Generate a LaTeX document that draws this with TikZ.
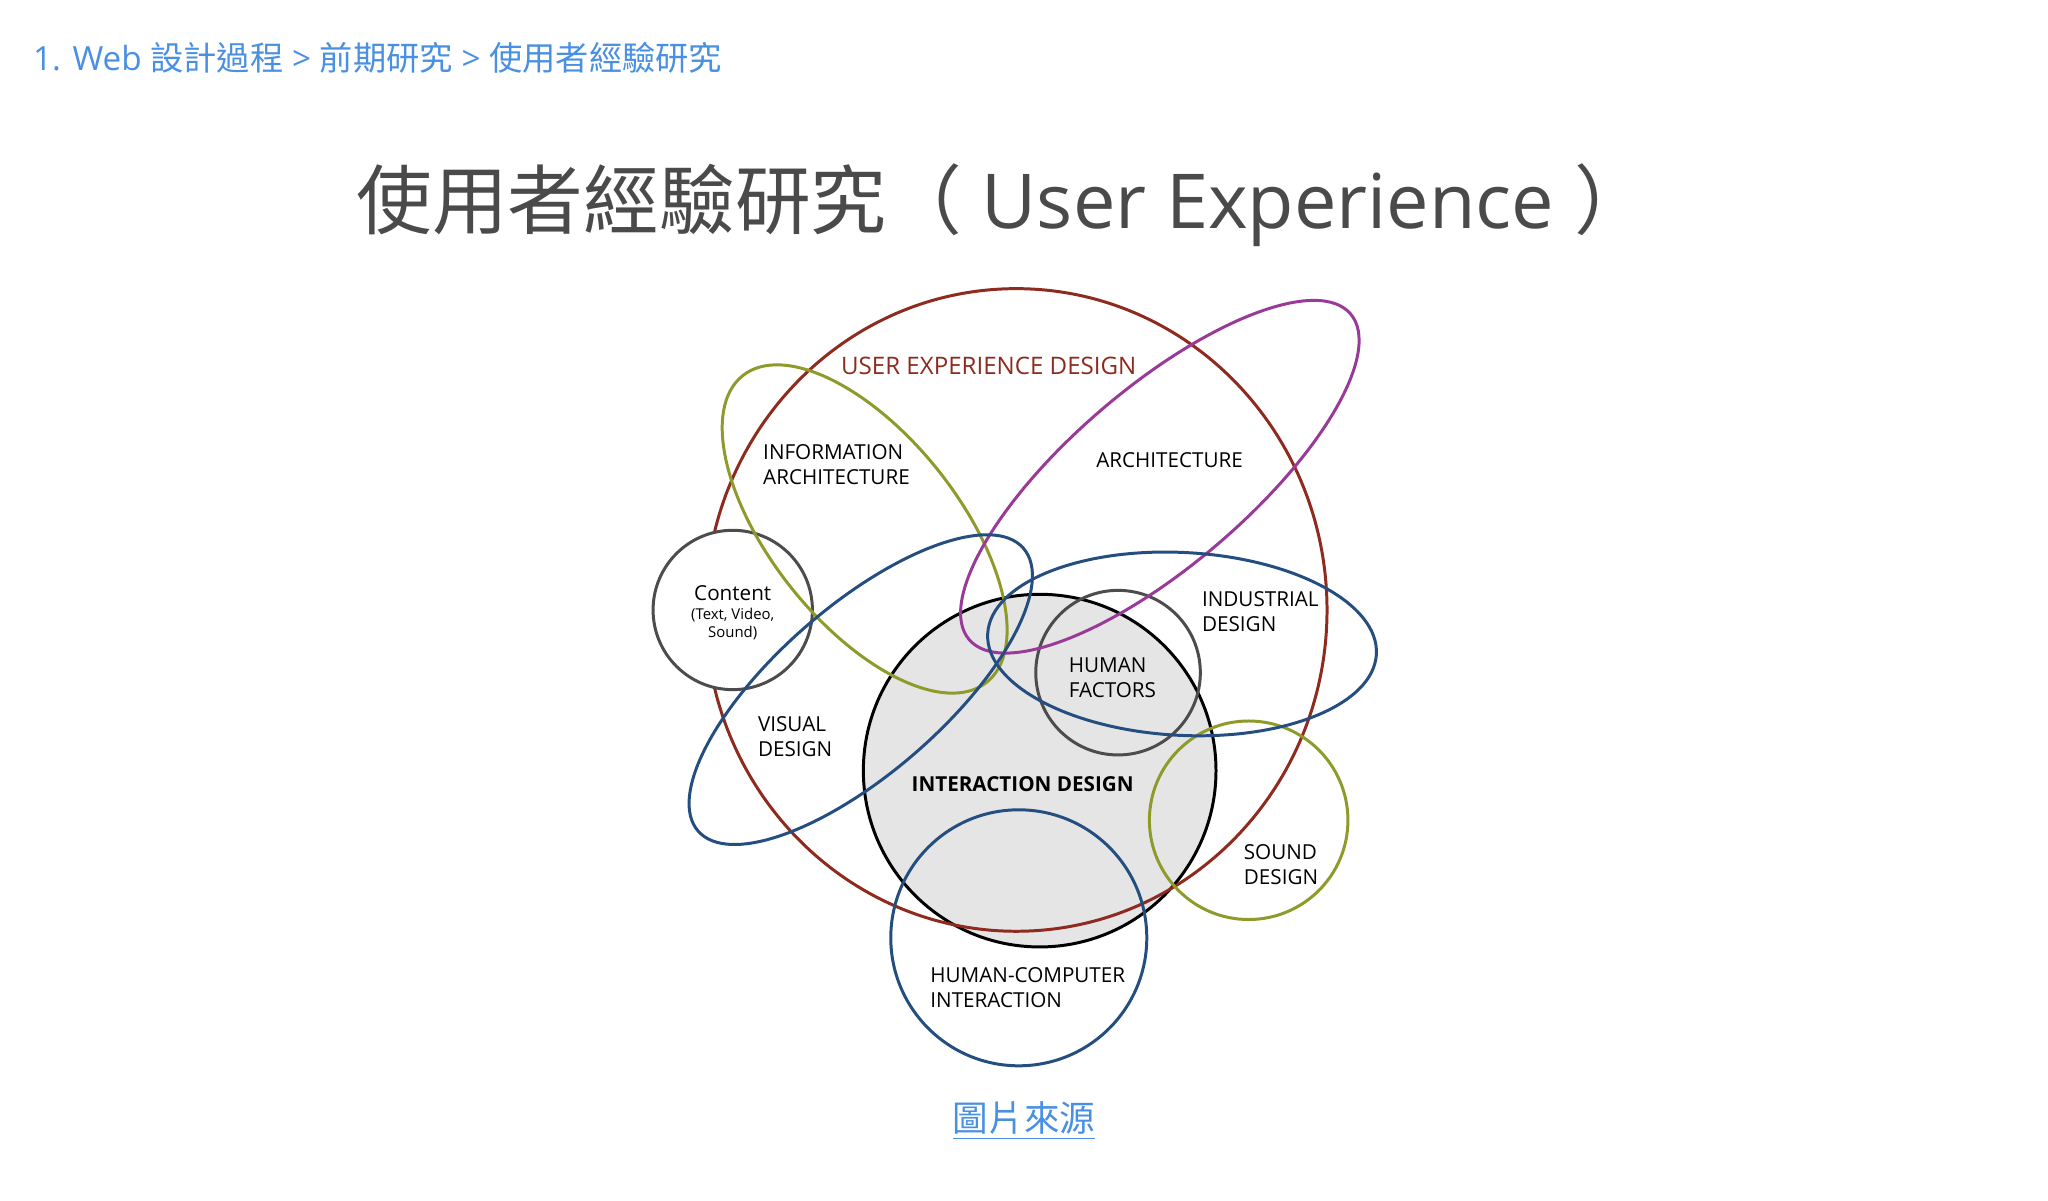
\documentclass[tikz,border=0pt]{standalone}
\usepackage{fontspec}
\setmainfont{Open Sans}
\newfontfamily\cjk{Noto Sans CJK TC}
\usetikzlibrary{shapes.geometric}
\definecolor{uxred}{HTML}{8E2A1E}
\definecolor{olive}{HTML}{8E9A2A}
\definecolor{purp}{HTML}{9A3A98}
\definecolor{navy}{HTML}{254E80}
\definecolor{link}{HTML}{4A90E2}
\definecolor{ttl}{HTML}{4A4A4A}
\begin{document}
\begin{tikzpicture}[x=0.02cm,y=0.02cm,
  lab/.style={align=left,font=\fontsize{9}{11}\selectfont,inner sep=0},
  ring/.style={line width=1.3pt}]
\useasboundingbox (0,0) rectangle (1568,-919);
\fill[white] (0,0) rectangle (1568,-919);
% shapes
\draw[ring,fill=gray!20,draw=black] (796,-590) circle [radius=135];
\draw[ring,uxred] (778,-467) ellipse [x radius=238,y radius=246];
\draw[ring,black!70] (856,-515) circle [radius=63];
\draw[ring,black!70,fill=white] (561,-467) circle [radius=61];
\draw[ring,navy] (780,-718) circle [radius=98];
\draw[ring,olive] (956,-628) circle [radius=76];
\draw[ring,olive,rotate around={-51.5:(662,-405)}] (662,-405) ellipse [x radius=150,y radius=72];
\draw[ring,purp,rotate around={40.5:(888,-365)}] (888,-365) ellipse [x radius=192,y radius=68];
\draw[ring,navy,rotate around={-3:(905,-493)}] (905,-493) ellipse [x radius=149,y radius=70];
\draw[ring,navy,rotate around={41:(659,-528)}] (659,-528) ellipse [x radius=165,y radius=64];
% labels
\node[lab,text=uxred,font=\fontsize{10.5}{12}\selectfont] (ux) at (757,-280) {USER EXPERIENCE DESIGN};
\node[lab,anchor=west] (ia) at (584,-356) {INFORMATION\\ARCHITECTURE};
\node[lab,anchor=west] (ar) at (839,-352) {ARCHITECTURE};
\node[lab,anchor=west] (id) at (920,-468) {INDUSTRIAL\\DESIGN};
\node[lab,anchor=west] (hf) at (818,-519) {HUMAN\\FACTORS};
\node[lab,align=center] (ct) at (561,-454) {Content};
\node[lab,align=center,font=\fontsize{6.5}{8}\selectfont] (ct2) at (561,-478) {(Text, Video,\\Sound)};
\node[lab,anchor=west] (vd) at (580,-564) {VISUAL\\DESIGN};
\node[lab,font=\fontsize{9}{11}\selectfont\bfseries] (ixd) at (783,-600) {INTERACTION DESIGN};
\node[lab,anchor=west] (sd) at (952,-662) {SOUND\\DESIGN};
\node[lab,anchor=west] (hci) at (712,-756) {HUMAN-COMPUTER\\INTERACTION};
% texts
\node[anchor=west,text=link,inner sep=0,font=\fontsize{14.5}{16}\selectfont] (bc) at (25,-44) {1. Web {\cjk 設計過程} > {\cjk 前期研究} > {\cjk 使用者經驗研究}};
\node[text=ttl,inner sep=0,font=\fontsize{33}{36}\selectfont] (title) at (768,-157) {{\cjk 使用者經驗研究（} User Experience {\cjk ）}};
\node[text=link,inner sep=0,font=\fontsize{15.5}{18}\selectfont\cjk] (src) at (784,-858) {\underline{圖片來源}};
\end{tikzpicture}
\end{document}
